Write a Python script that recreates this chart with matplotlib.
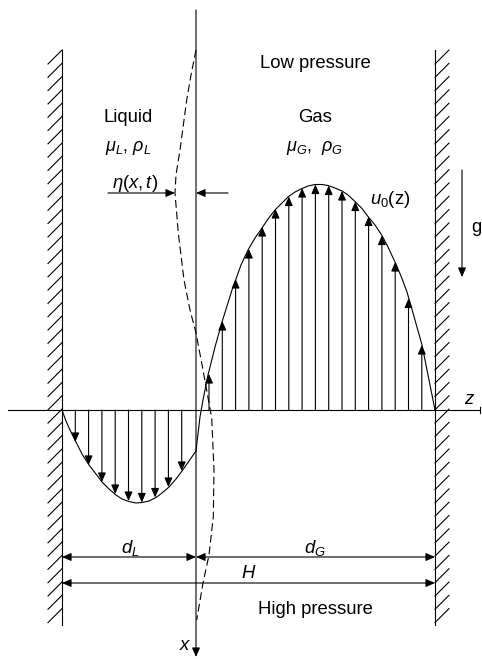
import numpy as np
import matplotlib
matplotlib.use("Agg")
import matplotlib.pyplot as plt

plt.rcParams['font.family'] = ['Liberation Sans', 'DejaVu Sans']
plt.rcParams['mathtext.fontset'] = 'custom'
plt.rcParams['mathtext.rm'] = 'Liberation Sans'
plt.rcParams['mathtext.it'] = 'Liberation Sans:italic'

# === Geometri (koordinat gambar dalam piksel) ===
dinding_kiri = 62
dinding_kanan = 435
antarmuka = 196
sumbu_z = 410
dinding_atas, dinding_bawah = 50, 625

# Profil kecepatan fase cair (z, posisi kurva)
cair_z = [62, 66, 70, 76, 82, 89, 96, 102, 109, 116, 122, 129, 136, 142, 149,
          156, 162, 169, 176, 182, 189, 196]
cair_u = [410, 421, 430, 442, 454, 465, 474, 482, 489, 495, 499, 501.5, 503,
          502.5, 501, 497.5, 493, 487, 479, 471, 461, 451]

# Profil kecepatan fase gas
gas_z = [196, 200, 203, 208, 215, 222, 232, 241, 248, 255, 262, 268, 275, 282,
         288, 295, 302, 308, 315, 322, 328, 335, 342, 348, 355, 362, 368, 375,
         382, 388, 395, 401, 407, 415, 422, 428, 435]
gas_u = [451, 417, 400, 375, 347, 322, 290, 265, 250, 238, 228, 219, 210, 203,
         197, 192, 188.5, 186, 184.5, 184.5, 185.5, 188, 191, 195, 201.5, 208.5,
         216.5, 225, 235.5, 247, 262, 276, 292, 320, 345, 375, 410]

# Panah kecepatan
panah_cair_z = [75.3, 88.6, 101.9, 115.2, 128.5, 141.8, 155.1, 168.4, 181.7]
panah_cair_u = [442, 465, 482, 494, 501, 502.5, 497.5, 487, 471]
panah_gas_z = [209, 222.3, 235.6, 248.9, 262.2, 275.5, 288.8, 302.1, 315.4,
               328.7, 342, 355.3, 368.6, 381.9, 395.2, 408.5, 421.8]
panah_gas_u = [374, 321, 279, 249, 227, 209, 196.5, 188, 184.5, 185.5, 191,
               201.5, 216.5, 235.5, 262, 298.5, 345]

# Antarmuka bergelombang (garis putus-putus)
gelombang_x = [196, 191, 186.7, 180, 176, 175, 178.3, 184, 190, 196, 203, 211.7,
               214, 213.3, 209, 203, 196.7]
gelombang_y = [50, 75, 100, 150, 175, 193, 233, 280, 310, 333, 370, 418,
               470, 517, 555, 583, 620]

hitam = 'black'
lw = 0.8

fig = plt.figure(figsize=(4.82, 6.59), dpi=100)
ax = fig.add_axes([0, 0, 1, 1])
ax.set_xlim(0, 482)
ax.set_ylim(659, 0)
ax.axis('off')

def panah(x0, y0, x1, y1, gaya='-|>'):
    ax.annotate('', xy=(x1, y1), xytext=(x0, y0),
                arrowprops=dict(arrowstyle=gaya + ',head_length=0.55,head_width=0.24',
                                mutation_scale=10, lw=lw, color=hitam,
                                shrinkA=0, shrinkB=0))

# --- Dinding dengan arsiran ---
for xw, arah in [(dinding_kiri, -1), (dinding_kanan, 1)]:
    ax.plot([xw, xw], [dinding_atas, dinding_bawah], color=hitam, lw=lw)
    for y0 in np.arange(dinding_atas, dinding_bawah - 13, 13.3):
        if arah < 0:
            ax.plot([xw, xw - 14], [y0, y0 + 14], color=hitam, lw=lw)
        else:
            ax.plot([xw, xw + 14], [y0 + 14, y0], color=hitam, lw=lw)

# --- Sumbu ---
ax.plot([8, 480], [sumbu_z, sumbu_z], color=hitam, lw=lw)
ax.plot([480, 480], [407, 413], color=hitam, lw=lw)
panah(antarmuka, 10, antarmuka, 657)

# --- Antarmuka bergelombang ---
ax.plot(gelombang_x, gelombang_y, color=hitam, lw=lw, linestyle=(0, (7, 3.5)))

# --- Profil kecepatan ---
ax.plot(cair_z, cair_u, color=hitam, lw=lw)
ax.plot(gas_z, gas_u, color=hitam, lw=lw)
for z, u in zip(panah_cair_z, panah_cair_u):
    panah(z, sumbu_z, z, u)
for z, u in zip(panah_gas_z, panah_gas_u):
    panah(z, sumbu_z, z, u)

# --- Panah eta dan gravitasi ---
panah(108, 193, 175, 193)
panah(228, 193, antarmuka, 193)
panah(462, 170, 462, 277)

# --- Dimensi ---
panah(dinding_kiri, 557, antarmuka, 557, '<|-|>')
panah(antarmuka, 557, dinding_kanan, 557, '<|-|>')
panah(dinding_kiri, 583, dinding_kanan, 583, '<|-|>')

# --- Teks ---
kw = dict(ha='center', va='center', color=hitam)
ax.text(315, 63, 'Low pressure', fontsize=13.3, **kw)
ax.text(128, 117, 'Liquid', fontsize=13.3, **kw)
ax.text(315, 117, 'Gas', fontsize=13.3, **kw)
ax.text(128, 148, r'$\mu_L$, $\rho_L$', fontsize=13, **kw)
ax.text(315, 148, r'$\mu_G$,  $\rho_G$', fontsize=13, **kw)
ax.text(135, 183, r'$\eta(x,t)$', fontsize=13.3, **kw)
ax.text(390, 200, r'$u_0$(z)', fontsize=13.3, **kw)
ax.text(476, 227, 'g', fontsize=13.3, **kw)
ax.text(470, 400, r'$z$', fontsize=13.3, **kw)
ax.text(185, 646, r'$x$', fontsize=13.3, **kw)
ax.text(130, 548, r'$d_L$', fontsize=13.3, **kw)
ax.text(315, 548, r'$d_G$', fontsize=13.3, **kw)
ax.text(249, 573, r'$H$', fontsize=13.3, **kw)
ax.text(315, 610, 'High pressure', fontsize=13.3, **kw)

fig.savefig('out.png', dpi=100)
